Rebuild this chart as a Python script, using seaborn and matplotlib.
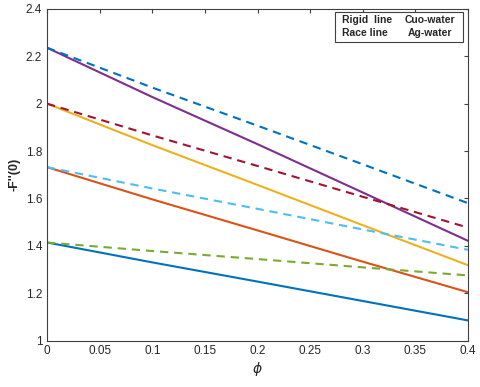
import matplotlib
matplotlib.use("Agg")
import matplotlib.pyplot as plt
from matplotlib.patches import Rectangle
import numpy as np
import pandas as pd
import seaborn as sns

phi = [0.0, 0.1, 0.2, 0.3, 0.4]

# rigid line (solid)
rigid_1 = [1.414, 1.330, 1.249, 1.167, 1.085]
rigid_2 = [1.732, 1.596, 1.465, 1.333, 1.204]
rigid_3 = [2.000, 1.825, 1.657, 1.487, 1.318]
rigid_4 = [2.236, 2.028, 1.829, 1.625, 1.421]

# race line (dashed)
race_1 = [1.414, 1.378, 1.344, 1.309, 1.275]
race_2 = [1.732, 1.642, 1.556, 1.469, 1.383]
race_3 = [2.000, 1.866, 1.737, 1.607, 1.477]
race_4 = [2.236, 2.068, 1.907, 1.744, 1.580]

legend_rows = [("Rigid  line", "Cuo-water"), ("Race line", "Ag-water")]

series = [
    ("rigid_1", rigid_1, "#0072BD", False),
    ("rigid_2", rigid_2, "#D95319", False),
    ("rigid_3", rigid_3, "#EDB120", False),
    ("rigid_4", rigid_4, "#7E2F8E", False),
    ("race_1", race_1, "#77AC30", True),
    ("race_2", race_2, "#4DBEEE", True),
    ("race_3", race_3, "#A2142F", True),
    ("race_4", race_4, "#0072BD", True),
]

sns.set_style("white")
plt.rcParams["font.family"] = ["Liberation Sans", "DejaVu Sans"]

fig = plt.figure(figsize=(4.8, 3.87), dpi=100)
ax = fig.add_axes([0.098, 0.12, 0.877, 0.857])

for name, vals, color, dashed in series:
    df = pd.DataFrame({"phi": phi, "f": vals})
    line = sns.lineplot(data=df, x="phi", y="f", ax=ax, color=color,
                        linewidth=1.5, legend=False).lines[-1]
    if dashed:
        line.set_dashes((4, 2.8))

ax.set_xlim(0, 0.4)
ax.set_ylim(1, 2.4)
ax.set_xticks(np.arange(0, 0.401, 0.05))
ax.set_xticklabels(["0", "0.05", "0.1", "0.15", "0.2", "0.25", "0.3", "0.35", "0.4"])
ax.set_yticks(np.arange(1, 2.401, 0.2))
ax.set_yticklabels(["1", "1.2", "1.4", "1.6", "1.8", "2", "2.2", "2.4"])
ax.tick_params(direction="in", length=3, labelsize=8.5, colors="#404040",
               top=True, right=True, labelcolor="#262626")
for s in ax.spines.values():
    s.set_color("#404040")
    s.set_linewidth(0.8)

ax.set_xlabel(r"$\phi$", fontsize=10, labelpad=2)
ax.set_ylabel("-F''(0)", fontsize=9, fontweight="bold", labelpad=4)

# text-only legend box, like the original
ax.add_patch(Rectangle((0.684, 0.901), 0.304, 0.091, transform=ax.transAxes,
                       fc="white", ec="#404040", lw=0.8, zorder=5))
for i, (left, right) in enumerate(legend_rows):
    y = 0.966 - i * 0.040
    ax.text(0.700, y, left, transform=ax.transAxes, ha="left", va="center",
            fontsize=7.5, fontweight="bold", zorder=6)
    ax.text(0.910, y, right, transform=ax.transAxes, ha="center", va="center",
            fontsize=7.5, fontweight="bold", zorder=6)

fig.savefig("out.png", dpi=100)
